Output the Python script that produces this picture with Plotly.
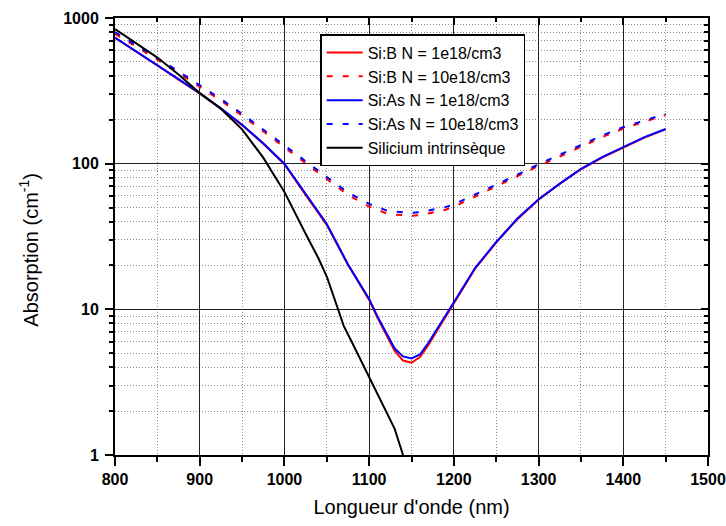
import plotly.graph_objects as go

# Wavelength grid (nm) for the doped-silicon curves
wl_doped = [800, 825, 850, 875, 900, 925, 950, 975, 1000, 1025, 1050, 1075, 1100,
            1110, 1120, 1130, 1140, 1150, 1160, 1170, 1180, 1190, 1200, 1225,
            1250, 1275, 1300, 1325, 1350, 1375, 1400, 1425, 1450]

# Absorption coefficients (cm^-1)
si_b_1e18 = [730, 590, 472, 378, 303, 238, 184, 137, 99, 61, 38, 20.2, 11.6,
             8.7, 6.7, 5.2, 4.45, 4.3, 4.7, 5.7, 7.1, 8.8, 11.0, 19.0,
             28.7, 41.6, 56.5, 72.5, 91.5, 110, 129, 151, 172]
si_b_10e18 = [780, 640, 518, 419, 339, 271, 214, 166, 129, 100.5, 78, 61, 50.8,
              48.3, 45.7, 44.7, 44.2, 43.9, 44.3, 45.4, 46.8, 48.3, 50.6, 59.4,
              70, 82, 96.5, 112, 131, 152, 174, 195, 216]
si_as_1e18 = [735, 593, 475, 381, 305, 240, 185, 138, 100, 62, 38.5, 20.4, 11.8,
              8.9, 6.9, 5.4, 4.75, 4.6, 4.9, 5.9, 7.3, 9.0, 11.2, 19.2,
              29, 42, 57, 73, 92, 111, 130, 152, 173]
si_as_10e18 = [800, 656, 531, 430, 348, 278, 220, 171, 133, 104, 81, 63.5, 53,
               50.5, 47.8, 46.8, 46.3, 46.0, 46.4, 47.5, 48.8, 50.3, 52.5, 61.3,
               72, 84, 99, 115, 134, 156, 178, 199, 220]

# Intrinsic silicon
wl_intr = [800, 825, 850, 875, 900, 925, 950, 975, 1000, 1025, 1040, 1050, 1060,
           1070, 1080, 1090, 1100, 1110, 1120, 1130, 1140, 1150]
si_intr = [839, 673, 535, 410, 305, 238, 172, 110, 64, 33, 22.5, 16.8, 11.2,
           7.7, 5.9, 4.5, 3.4, 2.6, 2.0, 1.52, 1.0, 0.65]

x_major = [800, 900, 1000, 1100, 1200, 1300, 1400, 1500]
x_minor = [850, 950, 1050, 1150, 1250, 1350, 1450]
y_major = [1, 10, 100, 1000]
y_labels = ["1", "10", "100", "1000"]
y_minor = [m * d for d in (1, 10, 100) for m in range(2, 10)]

FONT = "Liberation Sans, Arial, sans-serif"
DASH = "6px,10px"

fig = go.Figure()
series = [
    ("Si:B N = 1e18/cm3", wl_doped, si_b_1e18, "#ff0000", "solid"),
    ("Si:B N = 10e18/cm3", wl_doped, si_b_10e18, "#ff0000", DASH),
    ("Si:As N = 1e18/cm3", wl_doped, si_as_1e18, "#0000ff", "solid"),
    ("Si:As N = 10e18/cm3", wl_doped, si_as_10e18, "#0000ff", DASH),
    ("Silicium intrinsèque", wl_intr, si_intr, "#000000", "solid"),
]
for name, xs, ys, color, dash in series:
    fig.add_trace(go.Scatter(
        x=xs, y=ys, name=name, mode="lines",
        line=dict(color=color, width=2, dash=dash),
    ))

grid_minor = dict(tickmode="array", ticks="outside", ticklen=5, tickwidth=1.5,
                  tickcolor="black", showgrid=True, gridcolor="#8c8c8c",
                  griddash="1px,2px", gridwidth=1)

fig.update_layout(
    width=726, height=526,
    margin=dict(l=115, r=18, t=18, b=71),
    paper_bgcolor="white", plot_bgcolor="white",
    font=dict(family=FONT, color="black"),
    showlegend=True,
    legend=dict(
        x=0.346, y=0.963, xanchor="left", yanchor="top",
        bgcolor="white", bordercolor="black", borderwidth=1.5,
        font=dict(family=FONT, size=16, color="black"),
        itemwidth=36, tracegroupgap=0,
    ),
    xaxis=dict(
        range=[800, 1500], tickmode="array", tickvals=x_major,
        ticks="outside", ticklen=9, tickwidth=1.5, tickcolor="black",
        showline=True, linecolor="black", linewidth=2, mirror=True,
        showgrid=True, gridcolor="#222222", gridwidth=1,
        tickfont=dict(family=FONT, size=16, weight="bold"),
        title=dict(text="Longueur d'onde (nm)", font=dict(family=FONT, size=20),
                   standoff=13),
        minor=dict(grid_minor, tickvals=x_minor),
        zeroline=False, automargin=False,
    ),
    yaxis=dict(
        type="log", range=[0, 3], tickmode="array", tickvals=y_major,
        ticktext=y_labels, ticklabelstandoff=3,
        ticks="outside", ticklen=8, tickwidth=1.5, tickcolor="black",
        showline=True, linecolor="black", linewidth=2, mirror=True,
        showgrid=True, gridcolor="#222222", gridwidth=1,
        tickfont=dict(family=FONT, size=16, weight="bold"),
        minor=dict(grid_minor, tickvals=y_minor, ticklen=4),
        zeroline=False, automargin=False,
    ),
    # inward ticks along the top and right frame
    xaxis2=dict(
        overlaying="x", side="top", anchor="y", range=[800, 1500],
        tickmode="array", tickvals=x_major, ticks="inside", ticklen=7,
        tickwidth=1.5, tickcolor="black", showticklabels=False,
        showgrid=False, zeroline=False, showline=False, automargin=False,
        minor=dict(tickmode="array", tickvals=x_minor, ticks="inside",
                   ticklen=4, tickwidth=1.5, tickcolor="black", showgrid=False),
    ),
    yaxis2=dict(
        overlaying="y", side="right", anchor="x", type="log", range=[0, 3],
        tickmode="array", tickvals=y_major, ticks="inside", ticklen=7,
        tickwidth=1.5, tickcolor="black", showticklabels=False,
        showgrid=False, zeroline=False, showline=False, automargin=False,
        minor=dict(tickmode="array", tickvals=y_minor, ticks="inside",
                   ticklen=4, tickwidth=1.5, tickcolor="black", showgrid=False),
    ),
)

# y-axis title, placed as a rotated annotation
fig.add_annotation(
    text="Absorption (cm<sup>-1</sup>)", textangle=-90,
    xref="paper", yref="paper", x=-0.145, y=0.47,
    xanchor="center", yanchor="middle", showarrow=False,
    font=dict(family=FONT, size=20, color="black"),
)

# invisible trace so the top/right tick axes are laid out
fig.add_trace(go.Scatter(x=[800], y=[10], xaxis="x2", yaxis="y2", mode="markers",
                         marker=dict(opacity=0), showlegend=False, hoverinfo="skip"))

fig.write_html("out.html")
